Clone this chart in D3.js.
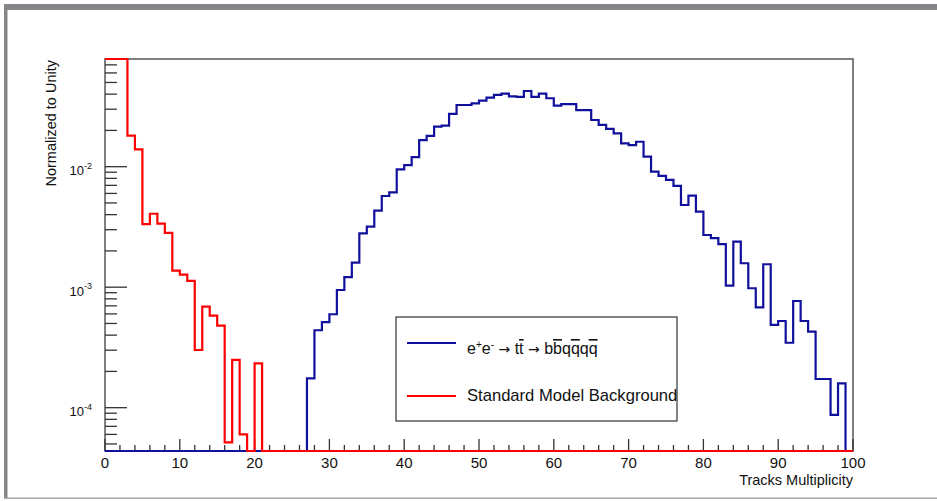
<!DOCTYPE html>
<html>
<head>
<meta charset="utf-8">
<script src="https://cdn.jsdelivr.net/npm/d3@7"></script>
<style>
  body { margin: 0; background: #fff; }
  text { font-family: "Liberation Sans", Arial, sans-serif; fill: #111; }
</style>
</head>
<body>
<script>
// bin contents, one per unit of track multiplicity (bins 0..99)
var signal = [
    0, 0, 0, 0, 0, 0, 0, 0, 0, 0,
    0, 0, 0, 0, 0, 0, 0, 0, 0, 0,
    0, 0, 0, 0, 0, 0, 0, 1.75e-4, 4.39e-4, 5.12e-4,
    5.96e-4, 9.48e-4, 1.21e-3, 1.60e-3, 2.80e-3, 3.18e-3, 4.32e-3, 5.71e-3, 6.13e-3, 9.5e-3,
    1.03e-2, 1.20e-2, 1.66e-2, 1.80e-2, 2.15e-2, 2.19e-2, 2.74e-2, 3.25e-2, 3.25e-2, 3.35e-2,
    3.53e-2, 3.74e-2, 3.94e-2, 4.04e-2, 3.84e-2, 3.80e-2, 4.25e-2, 3.80e-2, 4.04e-2, 3.70e-2,
    3.21e-2, 3.31e-2, 3.31e-2, 2.95e-2, 2.95e-2, 2.44e-2, 2.22e-2, 2.06e-2, 1.89e-2, 1.56e-2,
    1.51e-2, 1.61e-2, 1.21e-2, 9.1e-3, 8.4e-3, 7.76e-3, 6.92e-3, 4.81e-3, 5.75e-3, 4.23e-3,
    2.71e-3, 2.55e-3, 2.28e-3, 1.03e-3, 2.39e-3, 1.58e-3, 9.8e-4, 6.81e-4, 1.55e-3, 4.86e-4,
    5.24e-4, 3.46e-4, 7.68e-4, 5.24e-4, 4.27e-4, 1.73e-4, 1.73e-4, 8.7e-5, 1.59e-4, 0
];

var background = [
    0.5, 0.3, 0.15, 1.81e-2, 1.39e-2, 3.34e-3, 4.07e-3, 3.37e-3, 2.82e-3, 1.37e-3,
    1.27e-3, 1.13e-3, 3.01e-4, 6.89e-4, 5.8e-4, 4.79e-4, 5.16e-5, 2.49e-4, 6.0e-5, 0,
    2.33e-4, 0, 0, 0, 0, 0, 0, 0, 0, 0,
    0, 0, 0, 0, 0, 0, 0, 0, 0, 0,
    0, 0, 0, 0, 0, 0, 0, 0, 0, 0,
    0, 0, 0, 0, 0, 0, 0, 0, 0, 0,
    0, 0, 0, 0, 0, 0, 0, 0, 0, 0,
    0, 0, 0, 0, 0, 0, 0, 0, 0, 0,
    0, 0, 0, 0, 0, 0, 0, 0, 0, 0,
    0, 0, 0, 0, 0, 0, 0, 0, 0, 0
];

var xTicks = [0, 10, 20, 30, 40, 50, 60, 70, 80, 90, 100];
var yTicks = [1e-4, 1e-3, 1e-2];
var yTickLabels = ["-4", "-3", "-2"];

var width = 937;
var height = 501;

var svg = d3.select("body")
    .append("svg")
    .attr("width", width)
    .attr("height", height);

// canvas border (grey like the ROOT window)
svg.append("rect").attr("x", 4).attr("y", 4).attr("width", width - 4).attr("height", 6).attr("fill", "#86868a");
svg.append("rect").attr("x", 4).attr("y", 4).attr("width", 3.5).attr("height", 495).attr("fill", "#86868a");
svg.append("rect").attr("x", 4).attr("y", 497.5).attr("width", width - 4).attr("height", 1.5).attr("fill", "#a8a8ac");

// frame edges (window.top is reserved, so no "top" var)
var fLeft = 105, fRight = 853, fTop = 59, fBottom = 451;

var x = d3.scaleLinear().domain([0, 100]).range([fLeft, fRight]);
var y = d3.scaleLog().domain([4.37e-5, 0.0783]).range([fBottom, fTop]).clamp(true);

function yv(v) { return v > 0 ? y(v) : fBottom; }

// frame
svg.append("rect")
    .attr("x", fLeft).attr("y", fTop)
    .attr("width", fRight - fLeft).attr("height", fBottom - fTop)
    .attr("fill", "none").attr("stroke", "#555").attr("stroke-width", 1.5);

// y ticks (major + minor, pointing inward)
var yt = svg.append("g");
[-5, -4, -3, -2, -1].forEach(function(e) {
    for (var m = 1; m <= 9; m++) {
        var v = m * Math.pow(10, e);
        if (v < y.domain()[0] || v > y.domain()[1]) continue;
        yt.append("line")
            .attr("x1", fLeft).attr("x2", fLeft + (m == 1 ? 22 : 12))
            .attr("y1", y(v)).attr("y2", y(v))
            .attr("stroke", "#333").attr("stroke-width", 1.3);
    }
});

yTicks.forEach(function(v, i) {
    var t = svg.append("text")
        .attr("x", 92).attr("y", y(v) + 8.5)
        .attr("text-anchor", "end")
        .attr("font-size", 13);
    t.append("tspan").text("10");
    t.append("tspan").attr("dy", -6.5).attr("font-size", 9).text(yTickLabels[i]);
});

// x ticks
var xt = svg.append("g");
d3.range(0, 101, 2).forEach(function(v) {
    xt.append("line")
        .attr("x1", x(v)).attr("x2", x(v))
        .attr("y1", fBottom).attr("y2", fBottom - (v % 10 == 0 ? 12 : 6))
        .attr("stroke", "#333").attr("stroke-width", 1.3);
});

svg.append("g").selectAll("text")
    .data(xTicks)
    .enter().append("text")
    .attr("x", function(d) { return x(d); })
    .attr("y", 468)
    .attr("text-anchor", "middle")
    .attr("font-size", 15)
    .text(function(d) { return d; });

// axis titles
svg.append("text")
    .attr("transform", "translate(56,60) rotate(-90)")
    .attr("text-anchor", "end")
    .attr("font-size", 14.5)
    .text("Normalized to Unity");

svg.append("text")
    .attr("x", fRight).attr("y", 485)
    .attr("text-anchor", "end")
    .attr("font-size", 14.5)
    .text("Tracks Multiplicity");

// histogram outline
function histPath(vals) {
    var pts = [];
    vals.forEach(function(v, i) {
        pts.push([i, v]);
        pts.push([i + 1, v]);
    });
    return d3.line()
        .x(function(d) { return x(d[0]); })
        .y(function(d) { return yv(d[1]); })(pts);
}

svg.append("path")
    .attr("d", histPath(signal))
    .attr("fill", "none")
    .attr("stroke", "#10109c")
    .attr("stroke-width", 2.2);

svg.append("path")
    .attr("d", histPath(background))
    .attr("fill", "none")
    .attr("stroke", "#ff0000")
    .attr("stroke-width", 2.2);

// legend
var lg = svg.append("g");
lg.append("rect")
    .attr("x", 396).attr("y", 317)
    .attr("width", 281).attr("height", 104)
    .attr("fill", "#fff").attr("stroke", "#333").attr("stroke-width", 1.2);

lg.append("line").attr("x1", 407).attr("x2", 456).attr("y1", 343).attr("y2", 343)
    .attr("stroke", "#10109c").attr("stroke-width", 2.2);
lg.append("line").attr("x1", 407).attr("x2", 456).attr("y1", 396).attr("y2", 396)
    .attr("stroke", "#ff0000").attr("stroke-width", 2.2);

var arrowFont = "DejaVu Sans";
var l1 = lg.append("text").attr("x", 467).attr("y", 354).attr("font-size", 16);
l1.append("tspan").text("e");
l1.append("tspan").attr("dy", -6).attr("font-size", 10).text("+");
l1.append("tspan").attr("dy", 6).text("e");
l1.append("tspan").attr("dy", -6).attr("font-size", 10).text("-");
l1.append("tspan").attr("dy", 6).text(" ");
l1.append("tspan").attr("font-family", arrowFont).attr("font-size", 14).text("\u2192");
l1.append("tspan").text(" t");
l1.append("tspan").attr("text-decoration", "overline").text("t");
l1.append("tspan").text(" ");
l1.append("tspan").attr("font-family", arrowFont).attr("font-size", 14).text("\u2192");
l1.append("tspan").text(" b");
l1.append("tspan").attr("text-decoration", "overline").text("b");
l1.append("tspan").text("q");
l1.append("tspan").attr("text-decoration", "overline").text("q");
l1.append("tspan").text("q");
l1.append("tspan").attr("text-decoration", "overline").text("q");

lg.append("text").attr("x", 467).attr("y", 401).attr("font-size", 16.6)
    .text("Standard Model Background");
</script>
</body>
</html>
